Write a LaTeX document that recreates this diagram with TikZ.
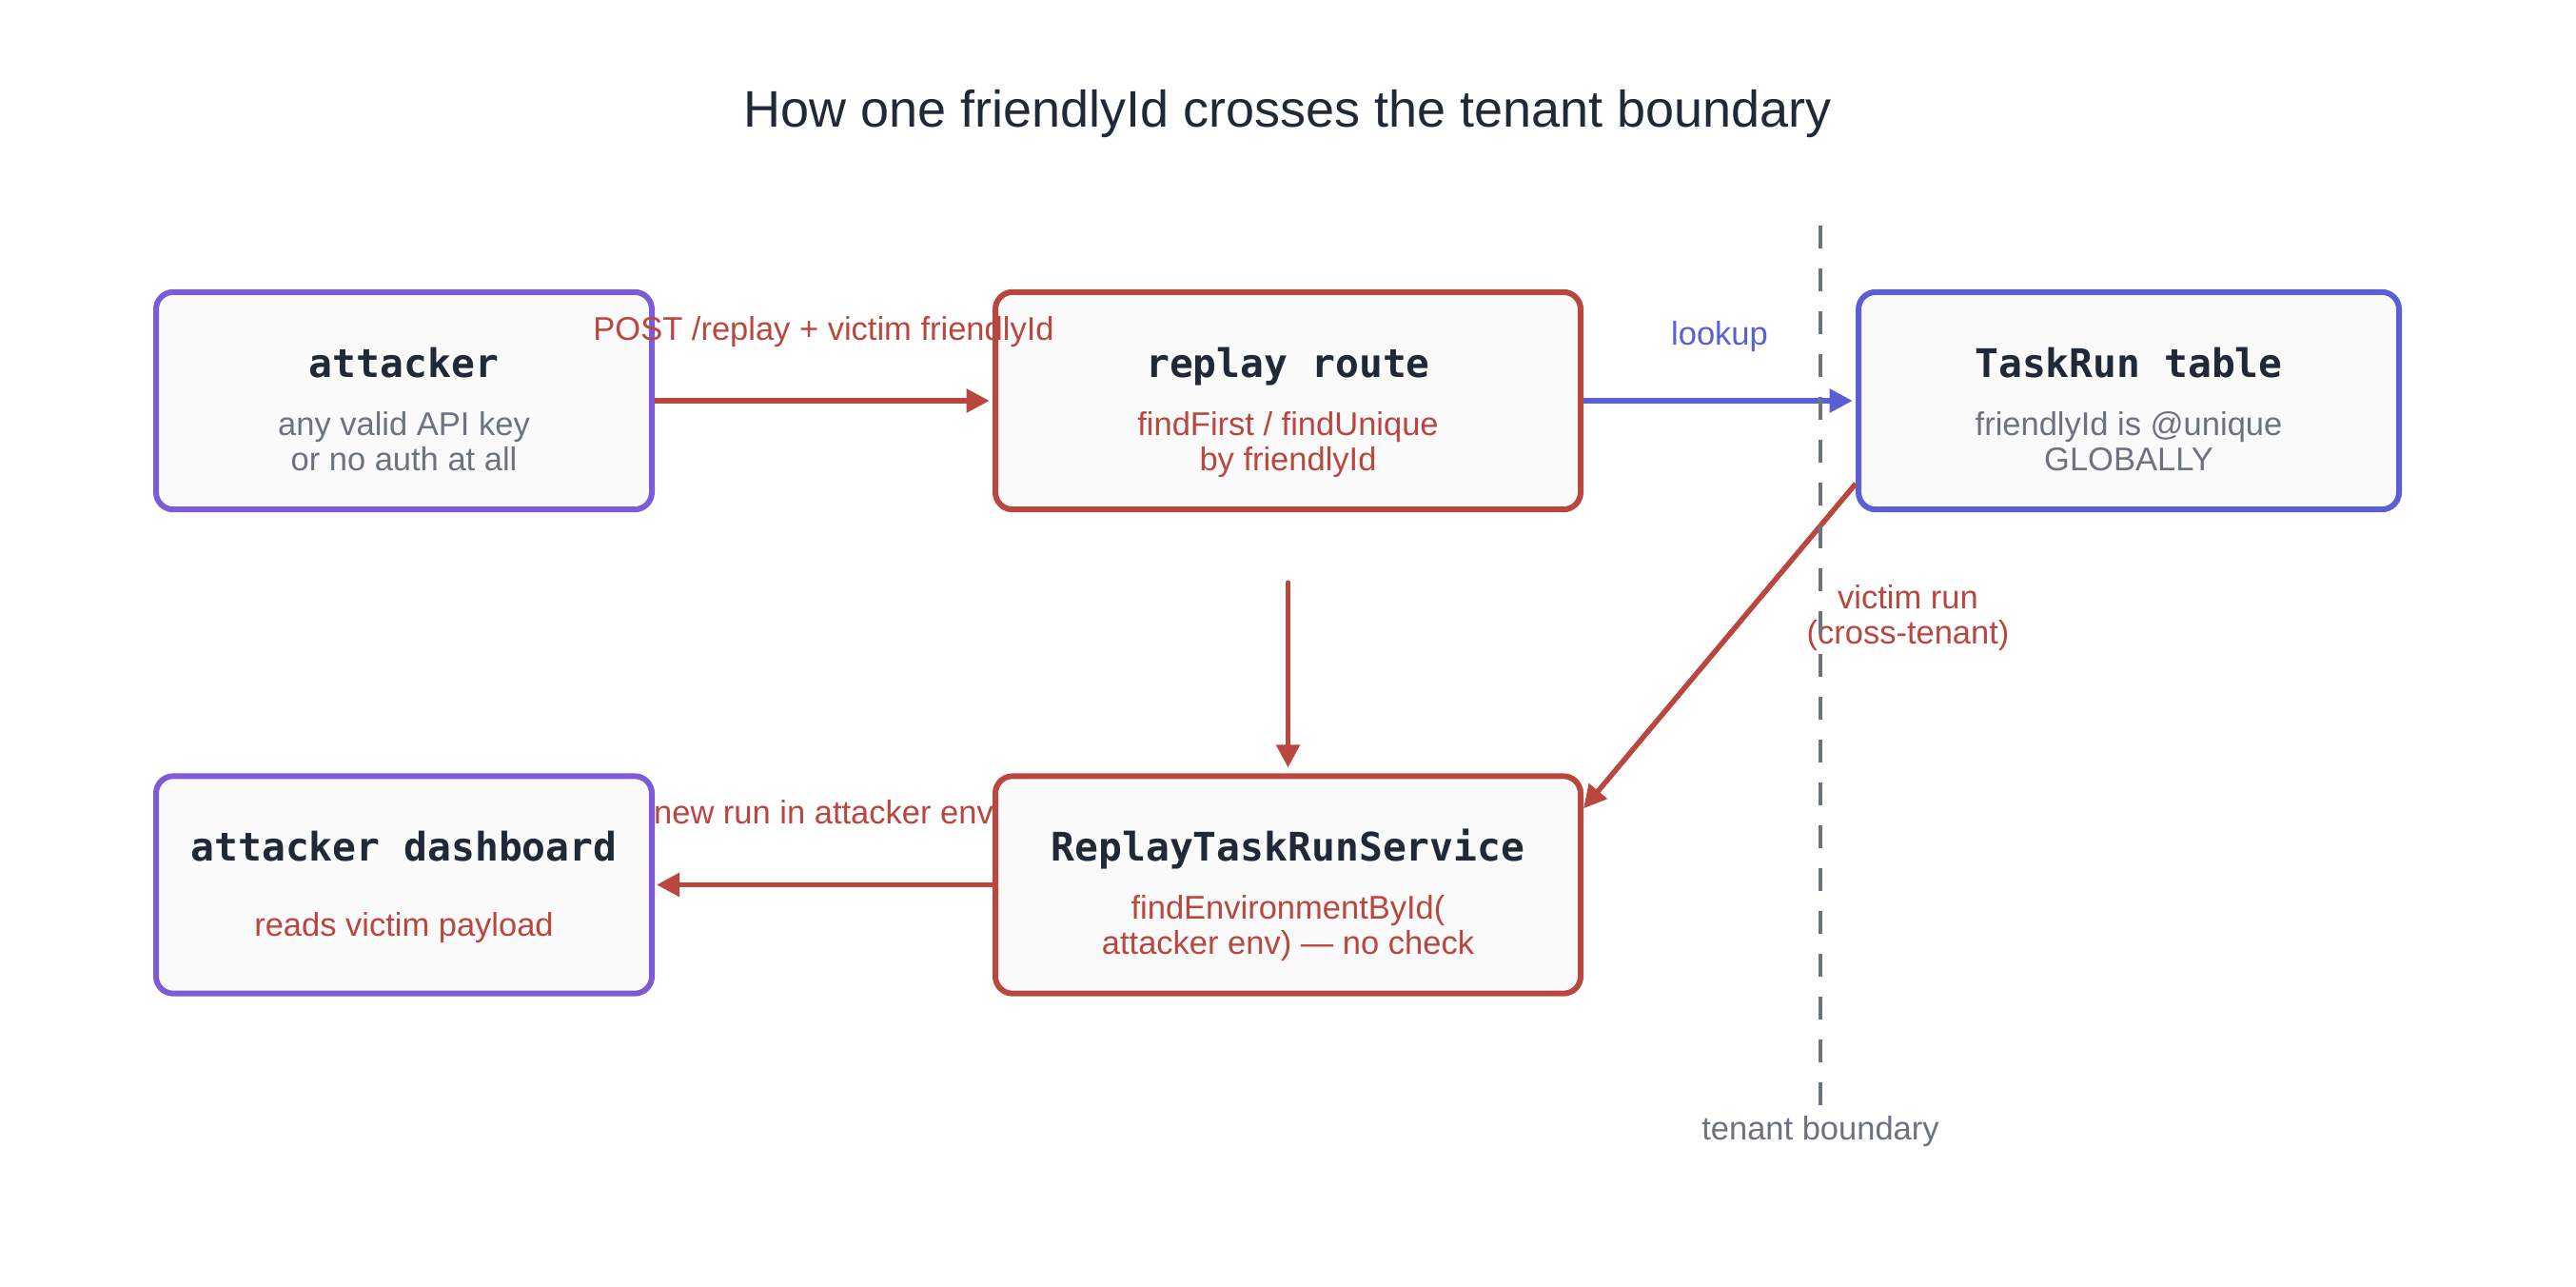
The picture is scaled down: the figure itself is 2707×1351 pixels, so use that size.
\documentclass[tikz,border=0pt]{standalone}
\usepackage{fontspec}
\setmainfont{Liberation Sans}
\setmonofont{DejaVu Sans Mono}
\usetikzlibrary{arrows.meta}

\definecolor{attackPurple}{RGB}{124,92,214}
\definecolor{flowRed}{RGB}{185,71,63}
\definecolor{lookupBlue}{RGB}{91,95,214}
\definecolor{mutedGray}{RGB}{107,114,128}
\definecolor{inkDark}{RGB}{31,41,55}
\definecolor{boxFill}{RGB}{250,250,250}

\tikzset{every picture/.style={line width=0.75pt}}
\tikzset{
  card/.style={draw, fill=boxFill, rounded corners=5.4pt, line width=1.8pt, minimum height=68.5pt, inner sep=0pt},
  cardtitle/.style={anchor=base, inner sep=0pt, text=inkDark, font=\fontsize{12.4}{14}\selectfont\ttfamily\bfseries},
  cardnote/.style={anchor=base, inner sep=0pt, align=center, font=\fontsize{10.35}{11.1}\selectfont},
  flow/.style={line width=1.65pt, -{Triangle[length=7.2pt,width=7.2pt]}},
  edgelabel/.style={anchor=base, inner sep=0pt, font=\fontsize{10.35}{11.1}\selectfont},
}

\begin{document}
\begin{tikzpicture}[x=0.3pt,y=-0.3pt]
\useasboundingbox[fill=white] (0,0) rectangle (2707,1351);

% Title
\node[anchor=base, inner sep=0pt, text=inkDark, font=\fontsize{16.2}{19}\selectfont] (heading) at (1353,133) {How one friendlyId crosses the tenant boundary};

%Rounded Rect: attacker side
\node[card, draw=attackPurple, minimum width=156.3pt] (attacker) at (424.5,421) {};
\node[cardtitle] (attackerT) at ([yshift=7.5pt]attacker.center) {attacker};
\node[cardnote, text=mutedGray] (attackerN) at ([yshift=-21.9pt]attacker.center) {any valid API key\\or no auth at all};

\node[card, draw=attackPurple, minimum width=156.3pt] (dashboard) at (424.5,929.5) {};
\node[cardtitle] (dashboardT) at ([yshift=7.5pt]dashboard.center) {attacker dashboard};
\node[cardnote, text=flowRed] (dashboardN) at ([yshift=-16.2pt]dashboard.center) {reads victim payload};

%Rounded Rect: server side
\node[card, draw=flowRed, minimum width=184.5pt] (replay) at (1353.5,421) {};
\node[cardtitle] (replayT) at ([yshift=7.5pt]replay.center) {replay route};
\node[cardnote, text=flowRed] (replayN) at ([yshift=-21.9pt]replay.center) {findFirst / findUnique\\by friendlyId};

\node[card, draw=flowRed, minimum width=184.5pt] (service) at (1353.5,929.5) {};
\node[cardtitle] (serviceT) at ([yshift=7.5pt]service.center) {ReplayTaskRunService};
\node[cardnote, text=flowRed] (serviceN) at ([yshift=-21.9pt]service.center) {findEnvironmentById(\\attacker env) — no check};

%Rounded Rect: victim tenant
\node[card, draw=lookupBlue, minimum width=170.4pt] (taskrun) at (2237,421) {};
\node[cardtitle] (taskrunT) at ([yshift=7.5pt]taskrun.center) {TaskRun table};
\node[cardnote, text=mutedGray] (taskrunN) at ([yshift=-21.9pt]taskrun.center) {friendlyId is @unique\\GLOBALLY};

%Arrows
\draw[flow, flowRed, shorten >=1pt] (attacker.east) -- node[edgelabel, midway, yshift=19.2pt, text=flowRed] (postL) {POST /replay + victim friendlyId} (replay.west);
\draw[flow, lookupBlue, shorten >=1pt] (replay.east) -- node[edgelabel, midway, yshift=17.7pt, text=lookupBlue] (lookupL) {lookup} (taskrun.west);
\draw[flow, flowRed, line cap=round, shorten <=22.2pt, shorten >=1.8pt] (replay.south) -- (service.north);
\draw[flow, flowRed] ([yshift=9pt]taskrun.south west) -- ([yshift=-11.1pt]service.north east);
\draw[flow, flowRed, shorten >=0.6pt] (service.west) -- node[edgelabel, midway, yshift=19.2pt, text=flowRed] (newrunL) {new run in attacker env} (dashboard.east);

% Text Node
\node[edgelabel, align=center, text=flowRed] (victimL) at (2005,676) {victim run\\(cross-tenant)};

%Dashed boundary
\coordinate (btop) at (1913,237);
\coordinate (bbot) at (1913,1161);
\draw[mutedGray, line width=1.4pt, dash pattern=on 7.2pt off 6.3pt] (btop) -- (bbot);
\node[edgelabel, text=mutedGray] (boundaryL) at (1913,1197) {tenant boundary};

\end{tikzpicture}
\end{document}
